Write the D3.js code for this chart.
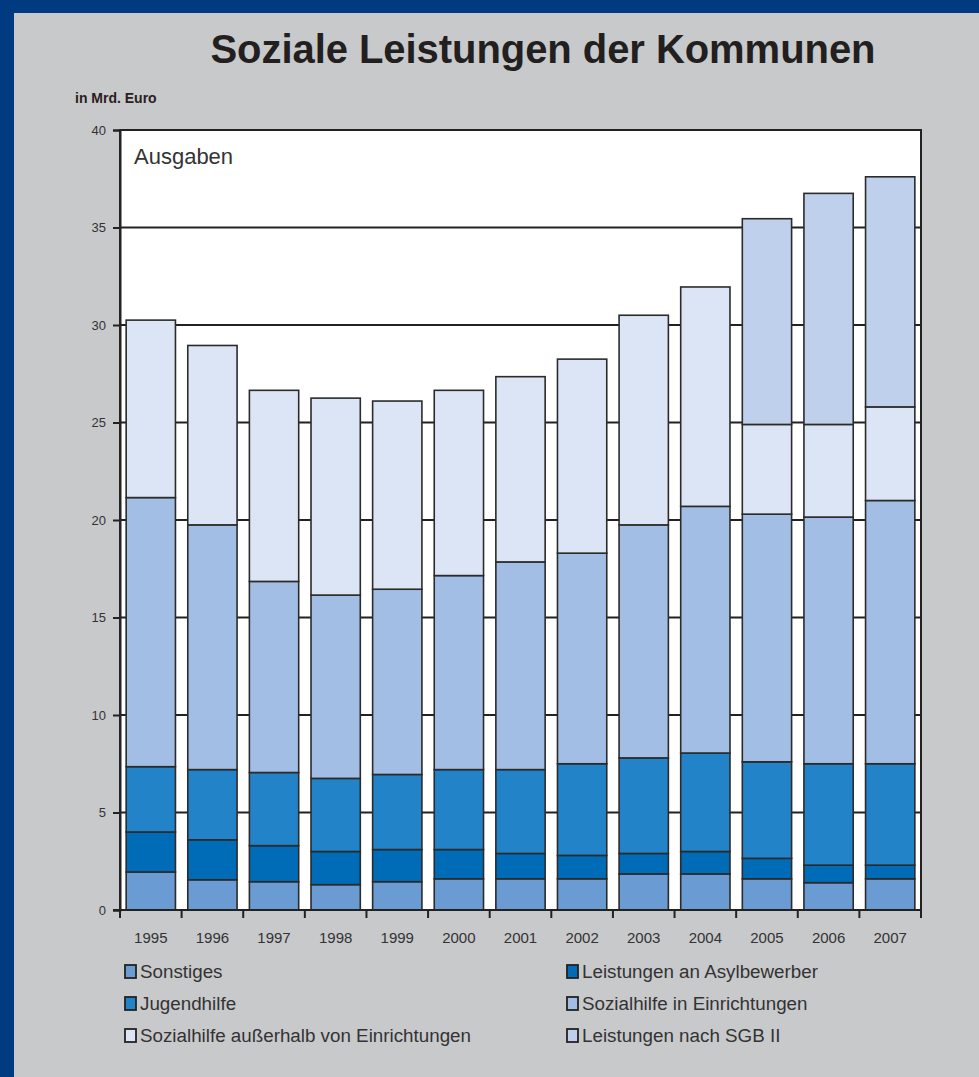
<!DOCTYPE html>
<html>
<head>
<meta charset="utf-8">
<script src="https://cdn.jsdelivr.net/npm/d3@7"></script>
<style>
body{margin:0;background:#003b82;overflow:hidden}
svg{display:block}
</style>
</head>
<body>
<svg id="chart"></svg>
<script>
const years = ['1995','1996','1997','1998','1999','2000','2001','2002','2003','2004','2005','2006','2007']
const sonstiges = [1.95,1.55,1.45,1.3,1.45,1.6,1.6,1.6,1.85,1.85,1.6,1.4,1.6]
const asyl = [2.05,2.05,1.85,1.7,1.65,1.5,1.3,1.2,1.05,1.15,1.05,0.9,0.7]
const jugendhilfe = [3.35,3.6,3.75,3.75,3.85,4.1,4.3,4.7,4.9,5.05,4.95,5.2,5.2]
const shInEinr = [13.8,12.55,9.8,9.4,9.5,9.95,10.65,10.8,11.95,12.65,12.7,12.65,13.5]
const shAusserhalb = [9.1,9.2,9.8,10.1,9.65,9.5,9.5,9.95,10.75,11.25,4.6,4.75,4.8]
const sgb2 = [0,0,0,0,0,0,0,0,0,0,10.55,11.85,11.8]
const seriesNames = ['Sonstiges','Leistungen an Asylbewerber','Jugendhilfe','Sozialhilfe in Einrichtungen','Sozialhilfe außerhalb von Einrichtungen','Leistungen nach SGB II']
const yTicks = [0,5,10,15,20,25,30,35,40]

const colors = ['#6a9bd2','#006bb6','#2383c8','#a2bee4','#dce5f5','#bfd0ec']
const width = 979, height = 1077
const margin = {top:130,bottom:167,left:120,right:58}
const font = 'Liberation Sans, Arial, sans-serif'

const keys = ['s','a','j','e','o','g']
const table = years.map((y,i)=>({year:y,s:sonstiges[i],a:asyl[i],j:jugendhilfe[i],e:shInEinr[i],o:shAusserhalb[i],g:sgb2[i]}))
const stacked = d3.stack().keys(keys)(table)

const svg = d3.select('#chart').attr('width',width).attr('height',height)

// grey panel, navy only at top and left
svg.append('rect').attr('x',14).attr('y',13).attr('width',width-14).attr('height',height-13).attr('fill','#c8c9cb')

svg.append('text')
  .attr('x',543).attr('y',63)
  .attr('text-anchor','middle')
  .attr('font-family',font)
  .attr('font-weight','bold')
  .attr('font-size','40px')
  .attr('textLength',665)
  .attr('fill','#231f1f')
  .text('Soziale Leistungen der Kommunen')

svg.append('text')
  .attr('x',75).attr('y',103)
  .attr('font-family',font)
  .attr('font-weight','bold')
  .attr('font-size','14px')
  .attr('fill','#2a2020')
  .text('in Mrd. Euro')

const x = d3.scaleBand().domain(years).range([margin.left,width-margin.right]).paddingInner(0.2).paddingOuter(0.1)
const y = d3.scaleLinear().domain([0,40]).range([height-margin.bottom,margin.top])

svg.append('rect')
  .attr('x',margin.left).attr('y',margin.top)
  .attr('width',width-margin.left-margin.right).attr('height',y(0)-margin.top)
  .attr('fill','#fff')

// gridlines
svg.append('g').selectAll('line')
  .data(yTicks.filter(d=>d>0&&d<40))
  .join('line')
  .attr('x1',margin.left).attr('x2',width-margin.right)
  .attr('y1',d=>y(d)).attr('y2',d=>y(d))
  .attr('stroke','#222').attr('stroke-width',2)

svg.append('text')
  .attr('x',134).attr('y',164)
  .attr('font-family',font)
  .attr('font-size','22px')
  .attr('fill','#333')
  .text('Ausgaben')

// bars
svg.append('g').selectAll('g')
  .data(stacked)
  .join('g')
  .attr('fill',(d,i)=>colors[i])
  .selectAll('rect')
  .data(d=>d.filter(p=>p[1]-p[0]>0))
  .join('rect')
  .attr('x',d=>x(d.data.year))
  .attr('y',d=>y(d[1]))
  .attr('height',d=>y(d[0])-y(d[1]))
  .attr('width',x.bandwidth())
  .attr('stroke','#2b2b2b')
  .attr('stroke-width',1.6)

// frame
svg.append('rect')
  .attr('x',margin.left).attr('y',margin.top)
  .attr('width',width-margin.left-margin.right).attr('height',y(0)-margin.top)
  .attr('fill','none').attr('stroke','#222').attr('stroke-width',2)

// y axis
const yAxis = svg.append('g')
  .attr('transform',`translate(${margin.left},0)`)
  .call(d3.axisLeft(y).tickValues(yTicks).tickSize(7).tickPadding(7))
yAxis.select('.domain').attr('stroke','#222').attr('stroke-width',2)
yAxis.selectAll('line').attr('stroke','#222').attr('stroke-width',2)
yAxis.selectAll('text').attr('font-family',font).attr('font-size','13px').attr('fill','#333')

// x axis ticks at category boundaries
const step = x.step()
const bounds = d3.range(years.length+1).map(i=>margin.left+i*step)
svg.append('g').selectAll('line')
  .data(bounds)
  .join('line')
  .attr('x1',d=>d).attr('x2',d=>d)
  .attr('y1',y(0)).attr('y2',y(0)+8)
  .attr('stroke','#222').attr('stroke-width',2)
svg.append('line')
  .attr('x1',margin.left-7).attr('x2',width-margin.right)
  .attr('y1',y(0)).attr('y2',y(0))
  .attr('stroke','#222').attr('stroke-width',2)

svg.append('g').selectAll('text')
  .data(years)
  .join('text')
  .attr('x',d=>x(d)+x.bandwidth()/2)
  .attr('y',y(0)+33)
  .attr('text-anchor','middle')
  .attr('font-family',font)
  .attr('font-size','15px')
  .attr('fill','#333')
  .text(d=>d)

// legend
const leg = svg.append('g').selectAll('g')
  .data(seriesNames)
  .join('g')
  .attr('transform',(d,i)=>`translate(${i%2===0?125:567},${965+Math.floor(i/2)*32})`)
leg.append('rect')
  .attr('width',11).attr('height',13)
  .attr('fill',(d,i)=>colors[i])
  .attr('stroke','#222').attr('stroke-width',1.8)
leg.append('text')
  .attr('x',15).attr('y',13)
  .attr('font-family',font)
  .attr('font-size','18.8px')
  .attr('fill','#333')
  .text(d=>d)
</script>
</body>
</html>
